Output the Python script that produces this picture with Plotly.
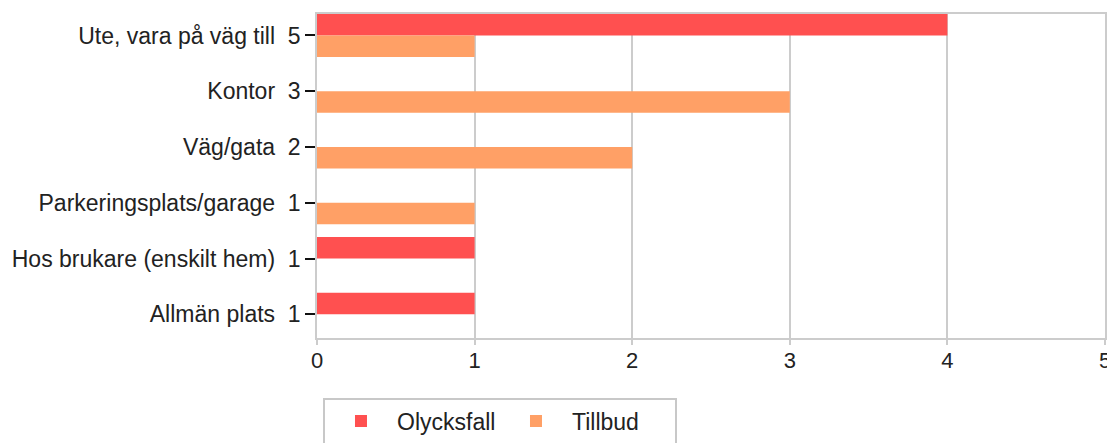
import plotly.graph_objects as go

categories = ["Ute, vara på väg till", "Kontor", "Väg/gata", "Parkeringsplats/garage",
              "Hos brukare (enskilt hem)", "Allmän plats"]
olycksfall = [4, 0, 0, 0, 1, 1]
tillbud = [1, 3, 2, 1, 0, 0]
totals = [o + t for o, t in zip(olycksfall, tillbud)]
tick_labels = [f"{c}  {t}" for c, t in zip(categories, totals)]

RED = "#FF5050"
ORANGE = "#FFA066"
FONT = "Liberation Sans, Arial, sans-serif"

fig = go.Figure()
fig.add_trace(go.Bar(y=categories, x=olycksfall, orientation="h", name="Olycksfall",
                     marker=dict(color=RED, line=dict(width=0))))
fig.add_trace(go.Bar(y=categories, x=tillbud, orientation="h", name="Tillbud",
                     marker=dict(color=ORANGE, line=dict(width=0))))

fig.update_layout(
    width=1115, height=443,
    margin=dict(l=308, r=18, t=4, b=113),
    barmode="group", bargap=0.23, bargroupgap=0,
    paper_bgcolor="white", plot_bgcolor="white",
    font=dict(family=FONT, size=23, color="#222222"),
    showlegend=True,
    legend=dict(orientation="h", x=0.0076, xanchor="left", y=-0.184, yanchor="top",
                bordercolor="#c8c8c8", borderwidth=2, font=dict(size=23, color="#222222"),
                itemwidth=62, entrywidth=98, entrywidthmode="pixels", traceorder="normal"),
    xaxis=dict(range=[0, 5], dtick=1, tick0=0, showgrid=True, gridcolor="#cccccc", gridwidth=1.5,
               zeroline=False, showline=True, linecolor="#cccccc", linewidth=1.5, mirror=True,
               ticks="outside", ticklen=5, tickcolor="#cccccc", tickwidth=1.5,
               tickfont=dict(size=22), ticklabelstandoff=-3),
    yaxis=dict(range=[5.425, -0.385], tickmode="array", tickvals=categories, ticktext=tick_labels,
               showline=True, linecolor="#cccccc", linewidth=1.5, mirror=True,
               ticks="outside", ticklen=10, tickcolor="#111111", tickwidth=1.5,
               showgrid=False, tickfont=dict(size=23)),
)

fig.write_html("out.html")
